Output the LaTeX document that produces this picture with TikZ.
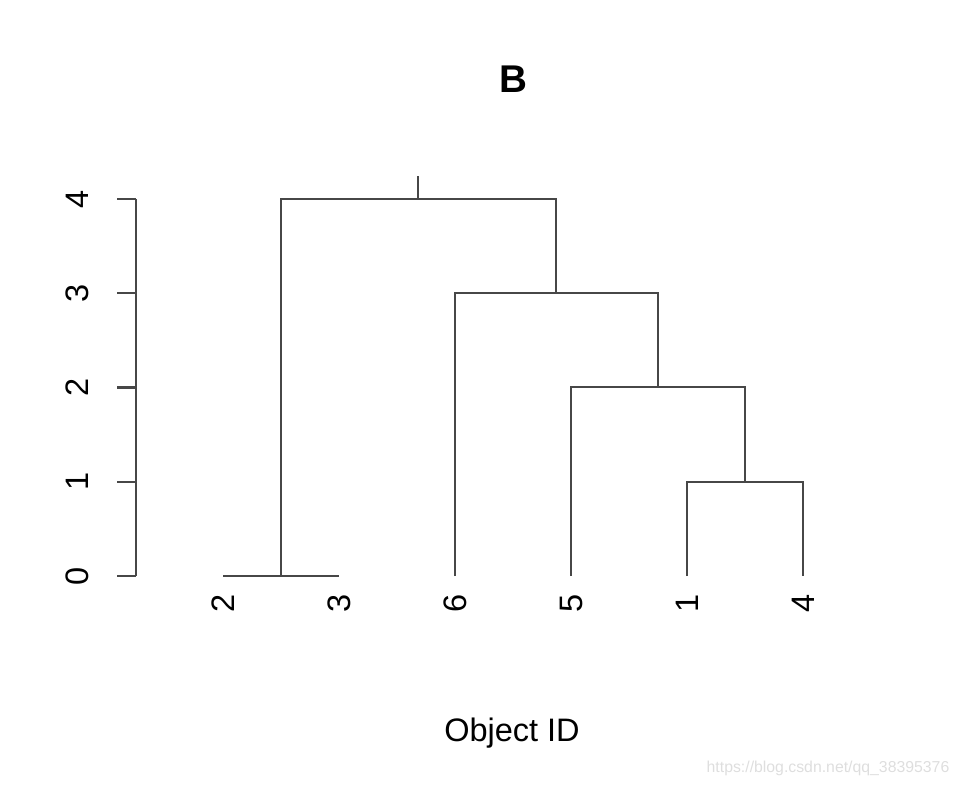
\documentclass[tikz,border=0pt]{standalone}
\usepackage{fontspec}
\setmainfont{Liberation Sans}
\usepackage{tikz}
\usetikzlibrary{calc}
\usetikzlibrary{positioning}
\tikzset{branch/.style = {draw = black!72, line width = 1.3pt}}
\tikzset{ticklab/.style = {draw = none, inner sep = 0, rotate = 90, font = \fontsize{18.5}{22}\selectfont}}
\tikzset{leaflab/.style = {draw = none, inner sep = 0, rotate = 90, anchor = east, font = \fontsize{18.5}{22}\selectfont}}

\begin{document}
\begin{tikzpicture}[x = 0.02cm, y = -0.02cm]
\useasboundingbox (0, 0) rectangle (959, 786);
%\node [draw=none] at (480, 393) {dendrogram};
\node [draw = none, font = \fontsize{22}{26}\selectfont\bfseries] (title) at (513, 79) {B};
\node [draw = none, font = \fontsize{18.5}{22}\selectfont] (xlab) at (512, 733) {Object ID};
\node [draw = none, text = black!13, font = \fontsize{9}{11}\selectfont] (mark) at (828, 768) {https://blog.csdn.net/qq\_38395376};
% y axis
\coordinate (ax0) at (136, 576);
\coordinate (ax4) at (136, 199);
\draw [branch] (ax0) -- (ax4);
\foreach \v in {0,...,4} {
  \coordinate (tk\v) at (136, {576 - 94.25*\v});
  \draw [branch] (tk\v) -- ++(-19, 0);
  \node [ticklab] (tl\v) at (77, {576 - 94.25*\v}) {\v};
}
% leaves
\coordinate (L2) at (223, 576);
\coordinate (L3) at (339, 576);
\coordinate (L6) at (455, 576);
\coordinate (L5) at (571, 576);
\coordinate (L1) at (687, 576);
\coordinate (L4) at (803, 576);
\node [leaflab] (t2) at (223, 594) {2};
\node [leaflab] (t3) at (339, 594) {3};
\node [leaflab] (t6) at (455, 594) {6};
\node [leaflab] (t5) at (571, 594) {5};
\node [leaflab] (t1) at (687, 594) {1};
\node [leaflab] (t4) at (803, 594) {4};
% merges
\coordinate (n23) at (281, 576);
\coordinate (n14) at (745, 482);
\coordinate (n514) at (658, 387);
\coordinate (n6) at (556, 293);
\coordinate (root) at (418, 199);
\coordinate (top) at (418, 176);
\draw [branch] (L2) -- (L3);
\draw [branch] (L1) |- (n14) -| (L4);
\draw [branch] (L5) |- (n514) -| (n14);
\draw [branch] (L6) |- (n6) -| (n514);
\draw [branch] (n23) |- (root) -| (n6);
\draw [branch] (root) -- (top);
\end{tikzpicture}
\end{document}
